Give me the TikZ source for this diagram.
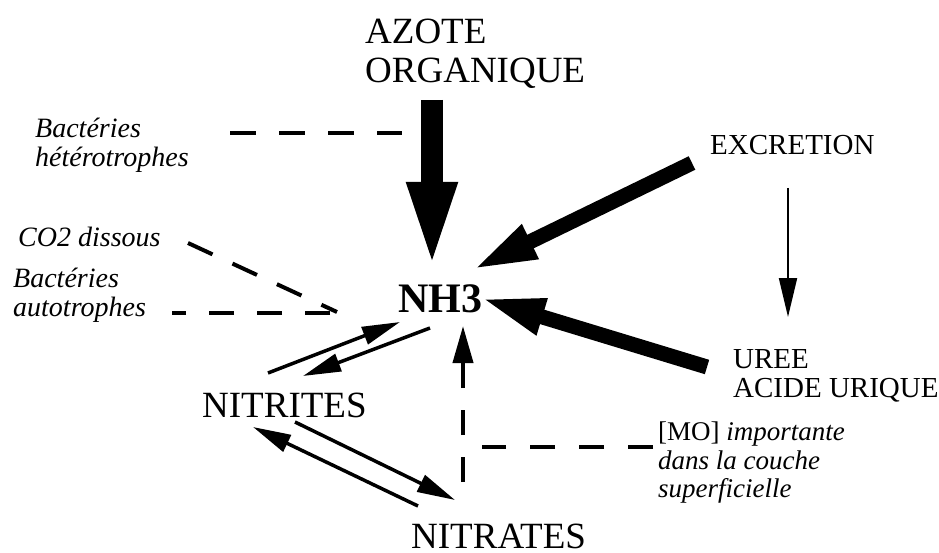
\documentclass[tikz,border=0pt]{standalone}
\usepackage{fontspec}
\setmainfont{Liberation Serif}
\usetikzlibrary{arrows.meta}

\begin{document}
\begin{tikzpicture}[x=1pt,y=-1pt,
  big/.style={inner sep=0pt,font=\fontsize{37}{39}\selectfont},
  small/.style={inner sep=0pt,align=left,font=\fontsize{29}{29}\selectfont},
  note/.style={inner sep=0pt,align=left,font=\fontsize{28}{29}\selectfont\itshape},
  heavy/.style={line width=15pt,-{Triangle[length=65pt,width=34pt]}},
  flow/.style={line width=3.5pt,-{Triangle[length=38pt,width=18pt]}},
  link/.style={line width=4pt,dash pattern=on 25pt off 23pt}]
\useasboundingbox (0,0) rectangle (939,553);

\node[big,align=left,anchor=north west] (azote) at (365,19) {AZOTE\\ORGANIQUE};
\node[inner sep=0pt,anchor=base west,font=\fontsize{42}{42}\selectfont\bfseries] (nh3) at (398,312) {NH3};
\node[big,anchor=base west] (nitrites) at (202,417) {NITRITES};
\node[big,anchor=base west] (nitrates) at (411,548) {NITRATES};
\node[small,anchor=base west] (excretion) at (710,155) {EXCRETION};
\node[small,anchor=north west] (uree) at (733,349) {UREE\\ACIDE URIQUE};
\node[note,anchor=north west] (hetero) at (35,118) {Bactéries\\hétérotrophes};
\node[note,anchor=base west] (co2) at (18,247) {CO2 dissous};
\node[note,anchor=north west] (auto) at (13,268) {Bactéries\\autotrophes};
\node[note,anchor=north west,font=\fontsize{27}{28.5}\selectfont] (mo) at (658,422)
  {[MO] \textit{importante}\\\textit{dans la couche}\\\textit{superficielle}};

% apports vers NH3
\draw[line width=22pt,-{Triangle[length=90pt,width=44pt]}]
  ([shift={(67,81)}]azote.north west) -- ([shift={(34,-40)}]nh3.base west);
\draw[heavy] ([shift={(-18,8)}]excretion.base west) -- ([shift={(74,-42)}]nh3.base west);
\draw[heavy] ([shift={(-26,18)}]uree.north west) -- ([shift={(82,-14)}]nh3.base west);
\draw[line width=2pt,-{Triangle[length=39pt,width=18pt]}]
  ([shift={(78,33)}]excretion.base west) -- ([shift={(55,-32)}]uree.north west);

% nitrification
\draw[flow] ([shift={(66,-44)}]nitrites.base west) -- ([shift={(2,10)}]nh3.base west);
\draw[flow] ([shift={(32,16)}]nh3.base west) -- ([shift={(101,-41)}]nitrites.base west);
\draw[flow] ([shift={(93,5)}]nitrites.base west) -- ([shift={(44,-48)}]nitrates.base west);
\draw[flow] ([shift={(7,-42)}]nitrates.base west) -- ([shift={(51,10)}]nitrites.base west);
\draw[link,dash pattern=on 25pt off 22pt,-{Triangle[length=37pt,width=20pt]}]
  ([shift={(52,-66)}]nitrates.base west) -- ([shift={(65,14)}]nh3.base west);

% facteurs
\draw[link,dash pattern=on 26pt off 23pt] ([shift={(195,15)}]hetero.north west) -- ([shift={(37,114)}]azote.north west);
\draw[link,dash pattern=on 27pt off 22pt] ([shift={(170,-4)}]co2.base west) -- ([shift={(-61,0)}]nh3.base west);
\draw[link] ([shift={(-68,1)}]nh3.base west) -- ([shift={(159,45)}]auto.north west);
\draw[link,dash pattern=on 25pt off 24pt] ([shift={(-5,25)}]mo.north west) -- ([shift={(71,-101)}]nitrates.base west);
\end{tikzpicture}
\end{document}
